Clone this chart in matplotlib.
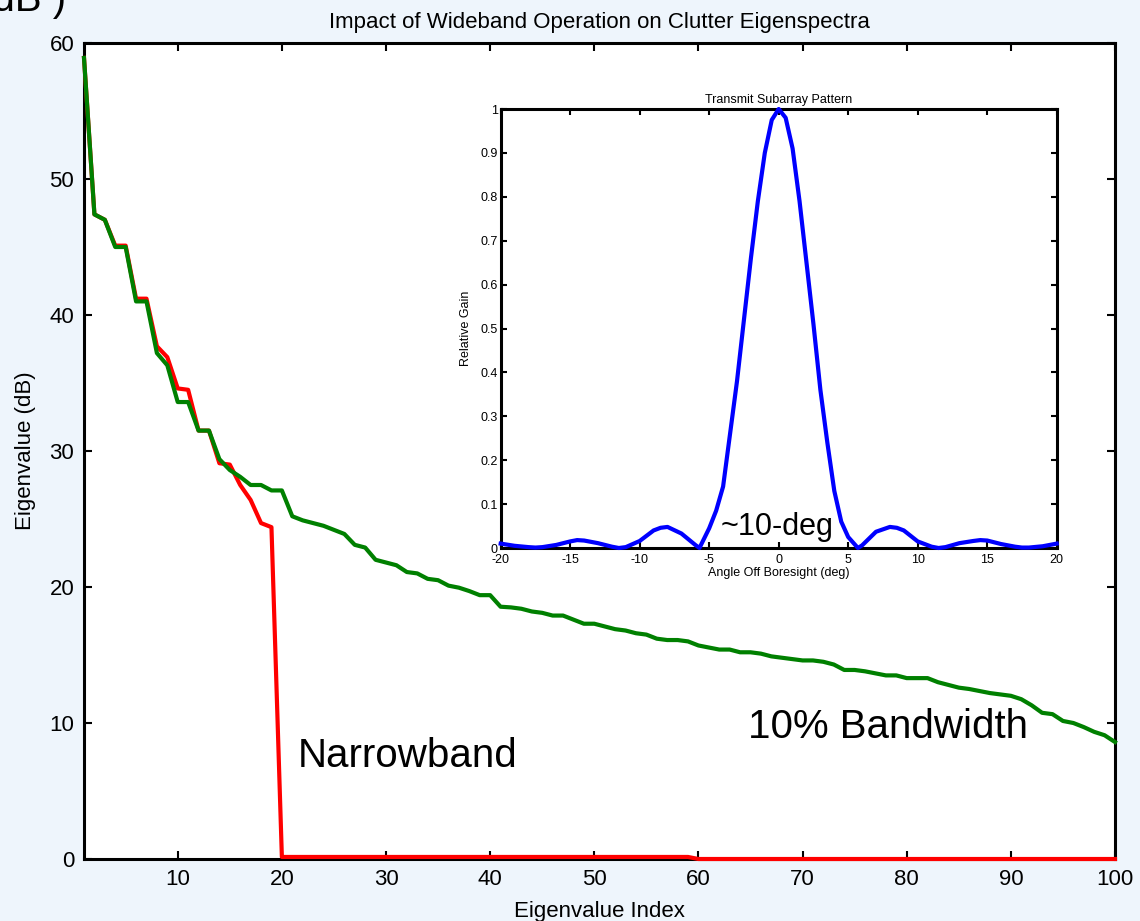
import matplotlib.pyplot as plt
import numpy as np

plt.rcParams['font.family'] = ['Liberation Sans', 'DejaVu Sans']
plt.rcParams['axes.unicode_minus'] = False

# eigenvalue index 1..100
eig_index = np.arange(1, 101)

# 10% bandwidth eigenspectrum (dB)
wideband_db = [
    58.9, 47.4, 47.0, 45.0, 45.0, 41.0, 41.0, 37.2, 36.3, 33.6,
    33.6, 31.5, 31.5, 29.4, 28.6, 28.1, 27.5, 27.5, 27.1, 27.1,
    25.2, 24.9, 24.7, 24.5, 24.2, 23.9, 23.1, 22.9, 22.0, 21.8,
    21.6, 21.1, 21.0, 20.6, 20.5, 20.1, 19.95, 19.7, 19.4, 19.4,
    18.55, 18.5, 18.4, 18.2, 18.1, 17.9, 17.9, 17.6, 17.3, 17.3,
    17.1, 16.9, 16.8, 16.6, 16.5, 16.2, 16.1, 16.1, 16.0, 15.7,
    15.55, 15.4, 15.4, 15.2, 15.2, 15.1, 14.9, 14.8, 14.7, 14.6,
    14.6, 14.5, 14.3, 13.9, 13.9, 13.8, 13.65, 13.5, 13.5, 13.3,
    13.3, 13.3, 13.0, 12.8, 12.6, 12.5, 12.35, 12.2, 12.1, 12.0,
    11.75, 11.3, 10.75, 10.65, 10.15, 10.0, 9.7, 9.35, 9.1, 8.6,
]

# narrowband eigenspectrum (dB): 19 significant values, then a flat floor
narrowband_db = [
    58.9, 47.4, 47.0, 45.1, 45.1, 41.2, 41.2, 37.7, 36.9, 34.6,
    34.5, 31.5, 31.5, 29.1, 29.0, 27.5, 26.4, 24.7, 24.4,
] + [0.15] * 40 + [0.0] * 41

# inset: transmit subarray pattern
angle_deg = [
    -20, -19, -18, -17.5, -17, -16, -15, -14.5, -14, -13, -12, -11.5, -11,
    -10, -9, -8.5, -8, -7, -6, -5.7, -5, -4.5, -4, -3.5, -3, -2.5, -2,
    -1.5, -1, -0.5, 0, 0.5, 1, 1.5, 2, 2.5, 3, 3.5, 4, 4.5, 5, 5.7, 6,
    7, 8, 8.5, 9, 10, 11, 11.5, 12, 13, 14, 14.5, 15, 16, 17, 17.5, 18,
    19, 20,
]
rel_gain = [
    0.010, 0.005, 0.002, 0.001, 0.002, 0.007, 0.015, 0.018, 0.017, 0.011,
    0.003, 0.000, 0.002, 0.016, 0.040, 0.046, 0.048, 0.033, 0.007, 0.000,
    0.045, 0.085, 0.140, 0.260, 0.380, 0.520, 0.660, 0.790, 0.900, 0.975,
    1.000, 0.980, 0.910, 0.790, 0.650, 0.510, 0.360, 0.240, 0.130, 0.060,
    0.025, 0.000, 0.006, 0.037, 0.048, 0.046, 0.040, 0.015, 0.003, 0.000,
    0.002, 0.011, 0.016, 0.018, 0.017, 0.009, 0.003, 0.001, 0.001, 0.004,
    0.010,
]

fig = plt.figure(figsize=(11.4, 9.21), dpi=100, facecolor='#EEF5FC')

ax = fig.add_axes([84 / 1140, 1 - 859 / 921, (1115 - 84) / 1140, (859 - 43) / 921])
ax.plot(eig_index, narrowband_db, color='#FF0000', lw=3, clip_on=False, zorder=3)
ax.plot(eig_index, wideband_db, color='#008000', lw=3, clip_on=False, zorder=4)
ax.set_xlim(1, 100)
ax.set_ylim(0, 60)
ax.set_xticks(range(10, 101, 10))
ax.set_yticks(range(0, 61, 10))
ax.tick_params(direction='in', length=6, width=1.5, labelsize=16, pad=7,
               top=True, right=True)
for sp in ax.spines.values():
    sp.set_linewidth(2.2)
ax.set_title('Impact of Wideband Operation on Clutter Eigenspectra', fontsize=16, pad=11)
ax.set_xlabel('Eigenvalue Index', fontsize=16, labelpad=8)
ax.set_ylabel('Eigenvalue (dB)', fontsize=16, labelpad=10)

ax.text(21.5, 6.8, 'Narrowband', fontsize=29, ha='left', va='baseline')
ax.text(64.8, 8.9, '10% Bandwidth', fontsize=29, ha='left', va='baseline')

# clipped text in the top-left corner
fig.text(66 / 1140, 1 - 11 / 921, '(dB )', fontsize=29, ha='right', va='baseline')

# inset
axi = fig.add_axes([500.7 / 1140, 1 - 548 / 921, 556 / 1140, 439 / 921])
axi.plot(angle_deg, rel_gain, color='#0000FF', lw=3, clip_on=False, zorder=3)
axi.set_xlim(-20, 20)
axi.set_ylim(0, 1)
axi.set_xticks(range(-20, 21, 5))
axi.set_yticks(np.arange(0, 1.01, 0.1))
axi.set_yticklabels(['0', '0.1', '0.2', '0.3', '0.4', '0.5', '0.6', '0.7', '0.8', '0.9', '1'])
axi.tick_params(direction='in', length=4, width=1.5, labelsize=9, pad=2,
                top=True, right=True)
axi.tick_params(axis='x', pad=4)
for sp in axi.spines.values():
    sp.set_linewidth(2.2)
axi.set_title('Transmit Subarray Pattern', fontsize=9, pad=4)
axi.set_xlabel('Angle Off Boresight (deg)', fontsize=9, labelpad=1)
axi.set_ylabel('Relative Gain', fontsize=9, labelpad=6)
axi.text(-4.2, 0.03, '~10-deg', fontsize=22, ha='left', va='baseline')

fig.savefig('out.png', dpi=100, facecolor=fig.get_facecolor())
